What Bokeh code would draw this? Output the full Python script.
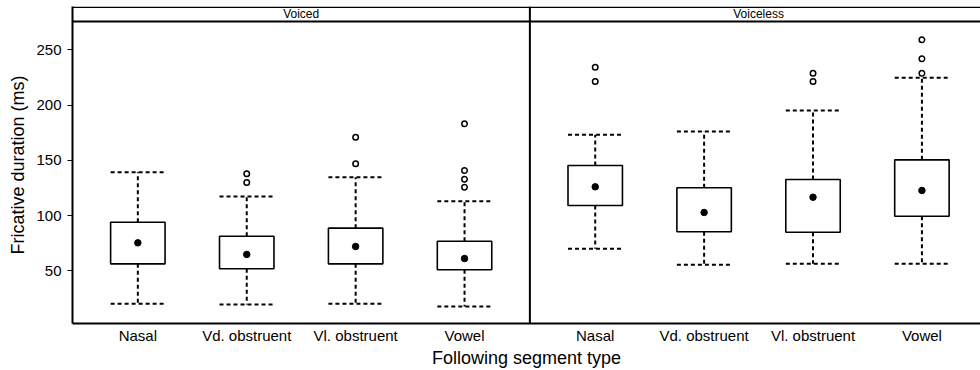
from bokeh.plotting import figure
from bokeh.models import FixedTicker, Span, ColumnDataSource
from bokeh.core.properties import value
from bokeh.embed import file_html
from bokeh.resources import INLINE

# ---- data ----
groups = ["Voiced", "Voiceless"]
categories = ["Nasal", "Vd. obstruent", "Vl. obstruent", "Vowel"]

voiced_lower = [20.1, 19.5, 20.1, 17.7]
voiced_q1 = [56.3, 51.8, 56.3, 50.9]
voiced_mean = [75.3, 64.8, 72.0, 61.1]
voiced_q3 = [94.0, 81.3, 88.6, 76.8]
voiced_upper = [139.2, 117.2, 134.7, 113.0]
voiced_outliers = [[], [129.9, 137.8], [146.8, 170.9], [125.7, 132.9, 140.8, 183.0]]

voiceless_lower = [69.9, 55.4, 56.3, 56.3]
voiceless_q1 = [109.1, 85.3, 84.9, 99.4]
voiceless_mean = [126.0, 102.8, 116.6, 122.7]
voiceless_q3 = [145.3, 125.1, 132.6, 150.4]
voiceless_upper = [173.1, 176.1, 195.1, 224.7]
voiceless_outliers = [[221.3, 234.3], [], [221.3, 228.8], [228.8, 241.9, 259.0]]

y_ticks = [50, 100, 150, 200, 250]

# ---- layout helpers ----
FONT = "Liberation Sans"
PANEL_SHIFT = 4.2        # width of one panel in x units
PANEL_EDGE = 4.6         # border between panels
BOX_W = 0.5
Y_HEADER = 275.6
Y_TOP = 288.6

panels = [
    (groups[0], voiced_lower, voiced_q1, voiced_mean, voiced_q3, voiced_upper, voiced_outliers),
    (groups[1], voiceless_lower, voiceless_q1, voiceless_mean, voiceless_q3, voiceless_upper, voiceless_outliers),
]

p = figure(width=980, height=370, output_backend="svg", toolbar_location=None,
           x_range=(0.4, 0.4 + 908 / 108.9), y_range=(2.3, 289.2),
           min_border_left=72, min_border_right=0, min_border_top=6, min_border_bottom=47)
p.outline_line_color = None
p.xgrid.visible = False
p.ygrid.visible = False
p.background_fill_color = "white"

tick_pos = []
tick_labels = {}
for gi, (gname, lo, q1, mn, q3, up, outs) in enumerate(panels):
    xs = [gi * PANEL_SHIFT + i + 1 for i in range(len(categories))]
    for x, c in zip(xs, categories):
        tick_pos.append(x)
        tick_labels[x] = c
    src = ColumnDataSource(dict(x=xs, lo=lo, q1=q1, mn=mn, q3=q3, up=up,
                                x0=[x - BOX_W / 2 for x in xs], x1=[x + BOX_W / 2 for x in xs]))
    # whiskers
    p.segment(x0="x", y0="q3", x1="x", y1="up", source=src, line_color="black",
              line_width=2, line_dash="4 3")
    p.segment(x0="x", y0="q1", x1="x", y1="lo", source=src, line_color="black",
              line_width=2, line_dash="4 3")
    # caps
    p.segment(x0="x0", y0="up", x1="x1", y1="up", source=src, line_color="black",
              line_width=2, line_dash="4 3")
    p.segment(x0="x0", y0="lo", x1="x1", y1="lo", source=src, line_color="black",
              line_width=2, line_dash="4 3")
    # boxes
    p.vbar(x="x", width=BOX_W, bottom="q1", top="q3", source=src, fill_color="white",
           line_color="black", line_width=1.6)
    # means
    p.scatter(x="x", y="mn", source=src, size=6.5, marker="circle", fill_color="black",
              line_color="black")
    # outliers
    ox, oy = [], []
    for x, o in zip(xs, outs):
        ox += [x] * len(o)
        oy += o
    p.scatter(ox, oy, size=5.5, marker="circle", fill_color="white", line_color="black",
              line_width=1.5)
    # strip label
    p.text(x=[gi * PANEL_SHIFT + 2.5], y=[(Y_HEADER + Y_TOP) / 2], text=[gname],
           text_font=value(FONT), text_font_size="12px", text_align="center",
           text_baseline="middle", text_color="black")

# panel / strip borders
p.add_layout(Span(location=PANEL_EDGE, dimension="height", line_color="black", line_width=2))
p.add_layout(Span(location=Y_HEADER, dimension="width", line_color="black", line_width=2))
p.add_layout(Span(location=Y_TOP, dimension="width", line_color="black", line_width=1.5))

# axes
p.xaxis.ticker = FixedTicker(ticks=tick_pos)
p.xaxis.major_label_overrides = tick_labels
p.xaxis.major_tick_out = 0
p.xaxis.major_tick_in = 0
p.xaxis.minor_tick_line_color = None
p.xaxis.axis_line_width = 2
p.xaxis.major_label_standoff = 3
p.xaxis.axis_label = "Following segment type"
p.xaxis.axis_label_standoff = 1

p.yaxis.ticker = FixedTicker(ticks=y_ticks)
p.yaxis.major_tick_out = 5
p.yaxis.major_tick_in = 0
p.yaxis.minor_tick_line_color = None
p.yaxis.axis_line_width = 2
p.yaxis.major_label_standoff = 6
p.yaxis.axis_label = "Fricative duration (ms)"
p.yaxis.axis_label_standoff = 5

for ax in (p.xaxis[0], p.yaxis[0]):
    ax.major_label_text_font = FONT
    ax.major_label_text_font_size = "15px"
    ax.major_label_text_color = "black"
    ax.axis_label_text_font = FONT
    ax.axis_label_text_font_size = "18px"
    ax.axis_label_text_font_style = "normal"
    ax.axis_label_text_color = "black"
    ax.axis_line_color = "black"
    ax.major_tick_line_color = "black"

open("out.html", "w").write(file_html(p, INLINE))
